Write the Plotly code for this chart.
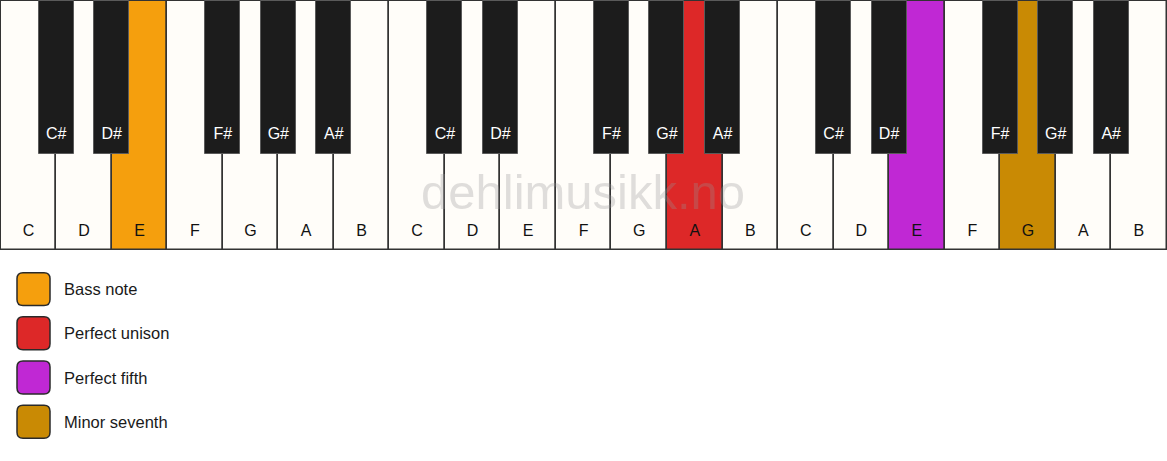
import plotly.graph_objects as go

# keyboard: three octaves of white keys
white_notes = ["C", "D", "E", "F", "G", "A", "B"] * 3
black_after = ["C", "D", "F", "G", "A"]          # white notes followed by a black key
black_names = {"C": "C#", "D": "D#", "F": "F#", "G": "G#", "A": "A#"}

# highlighted white keys (index into white_notes) and their role
highlight_keys = [2, 12, 16, 18]
highlight_roles = ["Bass note", "Perfect unison", "Perfect fifth", "Minor seventh"]
role_colors = ["#f59f0d", "#dd2828", "#c028d4", "#c98a04"]

WHITE = "#fffdf9"
BLACK = "#1c1c1c"
W, H = 1167, 461
KEY_H = 250
BLACK_H = 153
BLACK_W = 0.63

n = len(white_notes)
white_colors = [WHITE] * n
for k, c in zip(highlight_keys, role_colors):
    white_colors[k] = c

black_x, black_labels = [], []
for i, note in enumerate(white_notes):
    if note in black_after:
        black_x.append(i + 1)
        black_labels.append(black_names[note])

fig = go.Figure()

fig.add_trace(go.Bar(
    x=[i + 0.5 for i in range(n)], y=[KEY_H] * n, base=0, width=1,
    marker=dict(color=white_colors, line=dict(color="#333333", width=1.5)),
    hoverinfo="skip", showlegend=False,
))
fig.add_trace(go.Bar(
    x=black_x, y=[BLACK_H] * len(black_x), base=0, width=BLACK_W,
    marker=dict(color=BLACK, line=dict(color="#5a5a5a", width=1)),
    hoverinfo="skip", showlegend=False,
))

# key labels
fig.add_trace(go.Scatter(
    x=[i + 0.5 for i in range(n)], y=[231.5] * n, mode="text", text=white_notes,
    textfont=dict(family="Liberation Sans, Arial", size=16, color="#111111"),
    hoverinfo="skip", showlegend=False,
))
fig.add_trace(go.Scatter(
    x=black_x, y=[134] * len(black_x), mode="text", text=black_labels,
    textfont=dict(family="Liberation Sans, Arial", size=16, color="#ffffff"),
    hoverinfo="skip", showlegend=False,
))


def rounded_rect(x0, y0, x1, y1, r):
    return (f"M {x0 + r},{y0} L {x1 - r},{y0} Q {x1},{y0} {x1},{y0 + r} "
            f"L {x1},{y1 - r} Q {x1},{y1} {x1 - r},{y1} L {x0 + r},{y1} "
            f"Q {x0},{y1} {x0},{y1 - r} L {x0},{y0 + r} Q {x0},{y0} {x0 + r},{y0} Z")


# legend drawn in pixel coordinates on a second x axis
shapes = []
legend_y = [288.8, 333.1, 377.4, 421.7]
for yc, c in zip(legend_y, role_colors):
    shapes.append(dict(
        type="path", xref="x2", yref="y",
        path=rounded_rect(17, yc - 16.5, 50, yc + 16.5, 6),
        fillcolor=c, line=dict(color="#2a2a2a", width=1.5), layer="above",
    ))
fig.add_trace(go.Scatter(
    x=[64] * len(highlight_roles), y=[v + 2 for v in legend_y], mode="text",
    text=highlight_roles, textposition="middle right", xaxis="x2",
    textfont=dict(family="Liberation Sans, Arial", size=16.5, color="#1a1a1a"),
    hoverinfo="skip", showlegend=False,
))

fig.update_layout(
    width=W, height=H,
    margin=dict(l=0, r=0, t=0, b=0),
    paper_bgcolor="white", plot_bgcolor="white",
    barmode="overlay", bargap=0,
    shapes=shapes,
    xaxis=dict(range=[-0.012, n + 0.005], visible=False, fixedrange=True),
    xaxis2=dict(range=[0, W], overlaying="x", visible=False, fixedrange=True),
    yaxis=dict(range=[H, -0.8], visible=False, fixedrange=True),
    annotations=[dict(
        x=583, y=192, xref="x2", yref="y", text="dehlimusikk.no", showarrow=False,
        font=dict(family="Liberation Sans, Arial", size=49, color="rgba(150,150,150,0.3)"),
    )],
)

# drop the default page margin so the figure sits at the window corner
fig.write_html("out.html", config={"displayModeBar": False},
               post_script="document.body.style.margin='0';")
